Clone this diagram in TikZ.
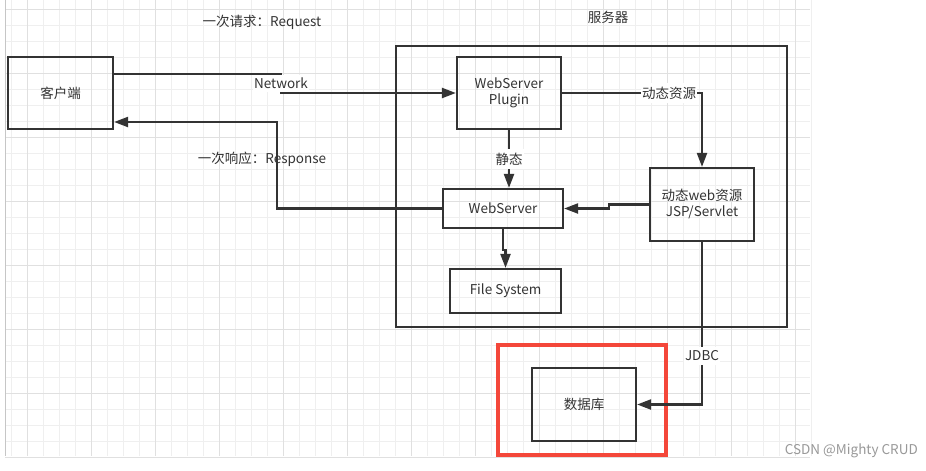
\documentclass[tikz,border=0pt]{standalone}
\usepackage{fontspec}
\setmainfont{Noto Sans CJK SC}
\usepackage{xcolor}
\usetikzlibrary{arrows.meta}

\definecolor{ink}{HTML}{333333}
\definecolor{alert}{HTML}{F4473A}
\definecolor{gridminor}{HTML}{EFEFEF}
\definecolor{gridmajor}{HTML}{E0E0E0}

\begin{document}
\begin{tikzpicture}[x=1pt, y=-1pt,
        box/.style={rectangle, draw=ink, line width=2.2pt, inner sep=0pt,
            align=center, text=ink, font=\fontsize{13.5}{16}\selectfont},
        wire/.style={draw=ink, line width=2.2pt},
        lbl/.style={fill=white, inner xsep=1pt, inner ysep=4pt, text=ink,
            font=\fontsize{13.5}{16}\selectfont},
        netlbl/.style={lbl, inner ysep=0pt, minimum height=16.7pt},
        note/.style={inner sep=0pt, text=ink, font=\fontsize{13.5}{16}\selectfont},
        >={Triangle[length=14pt,width=10pt]}]

        \useasboundingbox[fill=white] (0,0) rectangle (926,471);

        % grid background
        \foreach \x in {11,27,...,811} \draw[gridminor, line width=0.7pt] (\x,0) -- (\x,456);
        \foreach \y in {9,25,...,457} \draw[gridminor, line width=0.7pt] (5,\y) -- (810,\y);
        \foreach \x in {27,91,...,795} \draw[gridmajor, line width=0.9pt] (\x,0) -- (\x,456);
        \foreach \y in {9,73,...,457} \draw[gridmajor, line width=0.9pt] (5,\y) -- (810,\y);
        \draw[gray!45, line width=0.8pt] (5,0) -- (5,456);

        \node[box, minimum width=391pt, minimum height=281pt] (server) at (591.5,186.5) {};
        \node[note] (serverlbl) at (608,17) {服务器};

        \node[box, minimum width=105pt, minimum height=72pt] (client) at (60.5,93) {客户端};
        \node[box, minimum width=104pt, minimum height=72pt] (plugin) at (509,93) {WebServer\\Plugin};
        \node[box, minimum width=120pt, minimum height=39pt] (websrv) at (503,208.5) {WebServer};
        \node[box, minimum width=111pt, minimum height=44pt] (fs) at (505.5,291) {File System};
        \node[box, minimum width=104pt, minimum height=73pt] (jsp) at (702,204.5) {动态web资源\\JSP/Servlet};
        \node[box, minimum width=104pt, minimum height=73pt] (db) at (584,404.5) {数据库};

        \draw[alert, line width=4pt] (498,345) rectangle (666,455);

        \coordinate (net) at (281,83.35);
        \coordinate (resp) at (277,160);

        \node[note] (reqlbl) at (262,22) {一次请求：Request};
        \draw[wire,->] ([yshift=19pt]client.east) -| (net) node[netlbl] {Network}
            |- (plugin.west);
        \draw[wire,->] (websrv.west) -| (resp) |- ([yshift=-29pt]client.east);
        \node[note] (resplbl) at (262,159) {一次响应：Response};

        \draw[wire,->] (plugin.east) -| (jsp.north);
        \node[lbl] at (669,93) {动态资源};
        \draw[wire,->] (plugin.south) -- (plugin.south |- websrv.north)
            node[midway, lbl] {静态};
        \draw[wire,->] (jsp.west) -| ([xshift=45pt]websrv.east) -- (websrv.east);
        \draw[wire,->] (websrv.south) -- ++(0,21) -| (fs.north);
        \draw[wire,->] (jsp.south) |- (db.east);
        \node[lbl] at (702,356) {JDBC};

        \node[inner sep=0pt, text=gray!80, font=\fontsize{13.5}{16}\selectfont, anchor=east] (mark) at (918,451) {CSDN @Mighty CRUD};
    \end{tikzpicture}
\end{document}
